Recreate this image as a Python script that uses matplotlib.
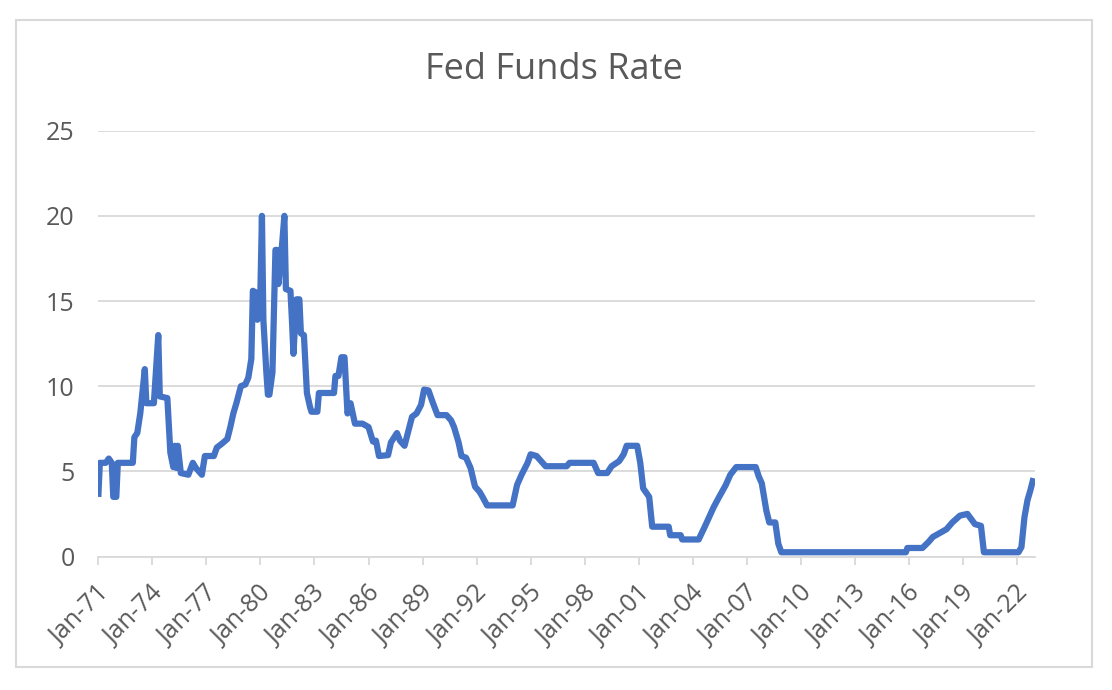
import matplotlib
matplotlib.use("Agg")
import matplotlib.pyplot as plt
from matplotlib.patches import Rectangle
from matplotlib.transforms import ScaledTranslation
import pandas as pd

# Monthly vertices (month, rate %)
months = [
    "1971-01", "1971-02", "1971-06", "1971-08", "1971-10", "1971-11", "1972-01", "1972-02",
    "1972-12", "1973-01", "1973-03", "1973-05", "1973-08", "1973-09", "1974-02", "1974-05",
    "1974-06", "1974-11", "1975-01", "1975-03", "1975-04", "1975-05", "1975-06", "1975-08",
    "1976-01", "1976-04", "1976-06", "1976-10", "1976-12", "1977-06", "1977-08", "1977-11",
    "1978-03", "1978-05", "1978-07", "1978-09", "1978-12", "1979-03", "1979-05", "1979-07",
    "1979-08", "1979-10", "1979-11", "1980-01", "1980-02", "1980-03", "1980-05", "1980-06",
    "1980-07", "1980-09", "1980-11", "1980-12", "1981-01", "1981-03", "1981-05", "1981-06",
    "1981-09", "1981-10", "1981-11", "1982-01", "1982-03", "1982-04", "1982-06", "1982-08",
    "1982-10", "1982-11", "1983-03", "1983-04", "1984-02", "1984-03", "1984-05", "1984-07",
    "1984-09", "1984-11", "1985-01", "1985-04", "1985-09", "1986-01", "1986-04", "1986-06",
    "1986-08", "1987-02", "1987-04", "1987-08", "1987-10", "1988-01", "1988-06", "1988-09",
    "1988-12", "1989-02", "1989-05", "1989-08", "1989-11", "1990-05", "1990-08", "1990-10",
    "1991-01", "1991-03", "1991-06", "1991-09", "1991-12", "1992-03", "1992-05", "1992-08",
    "1994-01", "1994-04", "1994-07", "1994-11", "1995-01", "1995-05", "1995-07", "1995-11",
    "1997-01", "1997-03", "1998-07", "1998-10", "1999-04", "1999-07", "1999-12", "2000-03",
    "2000-05", "2000-12", "2001-02", "2001-04", "2001-08", "2001-10", "2002-09", "2002-10",
    "2003-05", "2003-06", "2004-05", "2004-09", "2005-03", "2005-06", "2005-11", "2006-02",
    "2006-06", "2007-07", "2007-09", "2007-11", "2008-02", "2008-04", "2008-08", "2008-10",
    "2008-12", "2015-11", "2015-12", "2016-10", "2017-02", "2017-05", "2017-10", "2018-02",
    "2018-06", "2018-11", "2019-04", "2019-09", "2020-01", "2020-03", "2022-02", "2022-04",
    "2022-06", "2022-08", "2022-10", "2022-12",
]
rates = [
    3.5, 5.5, 5.5, 5.75, 5.5, 3.5, 3.5, 5.5,
    5.5, 7.0, 7.25, 8.4, 11.0, 9.0, 9.0, 13.0,
    9.4, 9.3, 6.1, 5.25, 6.5, 5.2, 6.5, 4.9,
    4.8, 5.5, 5.2, 4.8, 5.9, 5.9, 6.4, 6.6,
    6.9, 7.6, 8.4, 9.0, 10.0, 10.1, 10.5, 11.6,
    15.6, 15.5, 13.9, 15.6, 20.0, 13.9, 10.8, 9.5,
    9.5, 10.8, 18.0, 18.0, 16.0, 17.8, 20.0, 15.7,
    15.6, 13.9, 11.9, 15.1, 15.1, 13.1, 13.0, 9.6,
    8.8, 8.5, 8.5, 9.6, 9.6, 10.6, 10.6, 11.7,
    11.7, 8.4, 9.0, 7.8, 7.8, 7.6, 6.75, 6.8,
    5.9, 5.95, 6.7, 7.25, 6.8, 6.5, 8.2, 8.4,
    8.9, 9.8, 9.75, 9.0, 8.3, 8.3, 8.0, 7.6,
    6.7, 5.9, 5.8, 5.2, 4.1, 3.8, 3.5, 3.0,
    3.0, 4.2, 4.8, 5.5, 6.0, 5.9, 5.7, 5.3,
    5.3, 5.5, 5.5, 4.9, 4.9, 5.3, 5.6, 6.0,
    6.5, 6.5, 5.5, 4.0, 3.5, 1.75, 1.75, 1.25,
    1.25, 1.0, 1.0, 1.75, 2.9, 3.4, 4.2, 4.8,
    5.25, 5.25, 4.7, 4.3, 2.7, 2.0, 2.0, 0.75,
    0.25, 0.25, 0.5, 0.5, 0.85, 1.15, 1.4, 1.6,
    2.0, 2.4, 2.5, 1.9, 1.8, 0.25, 0.25, 0.55,
    2.3, 3.3, 3.9, 4.6,
]
y_ticks = [0, 5, 10, 15, 20, 25]
x_tick_years = list(range(1971, 2023, 3))
title = "Fed Funds Rate"

FONT = ["Open Sans", "DejaVu Sans"]
plt.rcParams["font.family"] = FONT
TXT = "#595959"
GRID = "#D9D9D9"
LINE = "#4472C4"

W, H = 1112, 690
fig = plt.figure(figsize=(W / 100, H / 100), dpi=100)
fig.patch.set_facecolor("white")

# chart border
fig.patches.append(Rectangle((16 / W, 1 - 667 / H), (1092 - 16) / W, (667 - 20) / H,
                             transform=fig.transFigure, fill=False,
                             edgecolor=GRID, linewidth=1.5))

ax = fig.add_axes([98.3 / W, 1 - 556.5 / H, (1035 - 98.3) / W, (556.5 - 130.7) / H])
dates = pd.to_datetime(months)
ax.plot(dates, rates, color=LINE, linewidth=4.5, solid_joinstyle="round",
        solid_capstyle="butt", zorder=3)

ax.set_xlim(pd.Timestamp("1971-01-01"), pd.Timestamp("2023-01-01"))
ax.set_ylim(0, 25)
ax.set_yticks(y_ticks)
ax.set_yticklabels([str(v) for v in y_ticks])
ax.yaxis.grid(True, color=GRID, linewidth=1.3)
ax.set_axisbelow(True)

xt = [pd.Timestamp(f"{y}-01-01") for y in x_tick_years]
ax.set_xticks(xt)
ax.set_xticklabels([f"Jan-{y % 100:02d}" for y in x_tick_years])

for s in ["top", "right", "left"]:
    ax.spines[s].set_visible(False)
ax.spines["bottom"].set_color(GRID)
ax.spines["bottom"].set_linewidth(1.3)

ax.tick_params(axis="y", length=0, pad=17, labelsize=18, labelcolor=TXT)
ax.tick_params(axis="x", length=6, width=1.3, color=GRID, pad=18,
               labelsize=18, labelcolor=TXT)
off = ScaledTranslation(0.08, 0, fig.dpi_scale_trans)
for lab in ax.get_xticklabels():
    lab.set_rotation(45)
    lab.set_ha("right")
    lab.set_va("center")
    lab.set_rotation_mode("anchor")
    lab.set_transform(lab.get_transform() + off)

fig.text(554 / W, 1 - 70 / H, title, ha="center", va="center",
         fontsize=26, color=TXT)

fig.savefig("out.png", dpi=100)
